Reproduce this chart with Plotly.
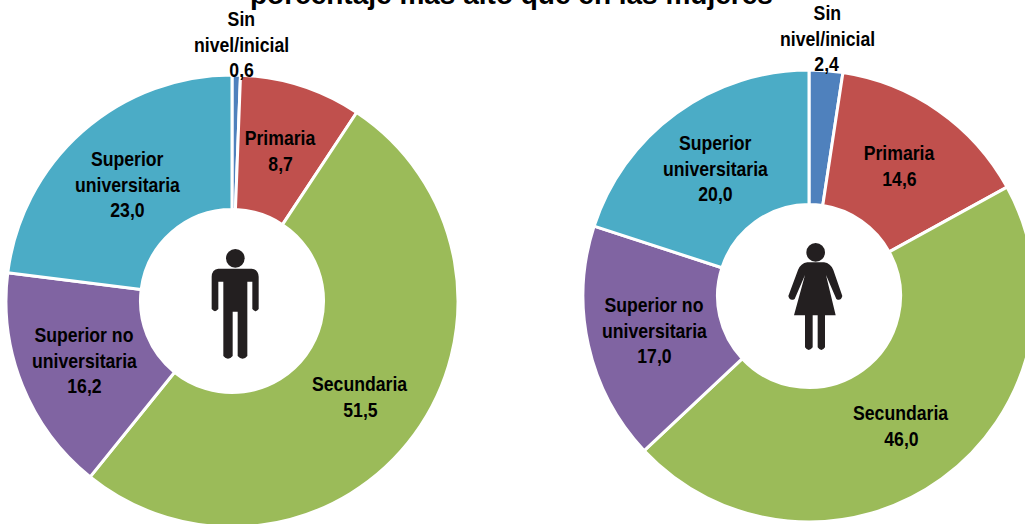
import plotly.graph_objects as go

categories = ["Sin<br>nivel/inicial", "Primaria", "Secundaria", "Superior no<br>universitaria", "Superior<br>universitaria"]
hombres = [0.6, 8.7, 51.5, 16.2, 23.0]
mujeres = [2.4, 14.6, 46.0, 17.0, 20.0]
title_text = "porcentaje más alto que en las mujeres"

colors = ["#4F81BD", "#C0504D", "#9BBB59", "#8064A2", "#4BACC6"]
W, H = 1040, 530
FONT = "Liberation Sans"
FS = 21
LH = 25.6


def px(x):
    return x / W


def py(y):
    return 1 - y / H


def dom(x0, x1, y0, y1):
    return dict(x=[px(x0), px(x1)], y=[py(y1), py(y0)])


def pie(vals, d):
    return go.Pie(values=vals, labels=[c.replace("<br>", " ") for c in categories], sort=False,
                  direction="clockwise", rotation=0, hole=0.405, textinfo="none",
                  marker=dict(colors=colors, line=dict(color="white", width=3)),
                  domain=d, showlegend=False)


fig = go.Figure([pie(hombres, dom(6, 458, 75, 527)), pie(mujeres, dom(583, 1035, 70, 522))])

ann = []
# first-line centre of every label, same order as categories
pos_h = [(241, 18.5), (280, 137.5), (360, 383.5), (84, 334.5), (127, 158.5)]
pos_m = [(827, 12.5), (899, 152.5), (901, 412.5), (654, 304.5), (715, 142.5)]
for vals, pos in ((hombres, pos_h), (mujeres, pos_m)):
    for cat, v, (cx, cy) in zip(categories, vals, pos):
        lines = cat.split("<br>") + [f"{v:.1f}".replace(".", ",")]
        for i, t in enumerate(lines):
            ann.append(dict(text=f"<b>{t}</b>", x=px(cx), y=py(cy + i * LH), xref="paper", yref="paper",
                            xanchor="center", yanchor="middle", showarrow=False,
                            font=dict(family=FONT, size=FS, color="black")))
ann.append(dict(text=f"<b>{title_text}</b>", x=px(511), y=py(-6), xref="paper", yref="paper",
                xanchor="center", yanchor="middle", showarrow=False,
                font=dict(family="Liberation Sans", size=28, color="black")))


def P(seq, ox, oy):
    out = ""
    for item in seq:
        if isinstance(item, str):
            out += item + " "
        else:
            out += f"{px(ox + item[0] / 3):.5f},{py(oy + item[1] / 3):.5f} "
    return out


INK = "#231F20"
shapes = []
# man icon (pictogram)
man = ["M", (85, 116), "L", (185, 116), "Q", (205, 118), (206, 140), "L", (206, 237), "Q", (197, 250), (187, 237),
       "L", (187, 155), "L", (172, 155), "L", (172, 378), "Q", (158, 395), (143, 378), "L", (143, 245), "L", (128, 245),
       "L", (128, 378), "Q", (114, 395), (100, 378), "L", (100, 155), "L", (85, 155), "L", (85, 237),
       "Q", (75, 250), (65, 237), "L", (65, 140), "Q", (66, 118), (85, 116), "Z"]
shapes.append(dict(type="path", xref="paper", yref="paper", path=P(man, 190, 230), fillcolor=INK, line=dict(width=0), layer="above"))
shapes.append(dict(type="circle", xref="paper", yref="paper", x0=px(190 + 108 / 3), x1=px(190 + 164 / 3),
                   y0=py(230 + 113 / 3), y1=py(230 + 57 / 3), fillcolor=INK, line=dict(width=0), layer="above"))
# woman icon (pictogram)
woman = ["M", (112, 97), "L", (162, 97), "Q", (182, 100), (190, 120), "L", (217, 198), "Q", (212, 215), (199, 207),
         "L", (168, 135), "L", (197, 256), "L", (165, 256), "L", (165, 352), "Q", (154, 368), (143, 352), "L", (143, 256),
         "L", (128, 256), "L", (128, 352), "Q", (116, 368), (105, 352), "L", (105, 256), "L", (72, 256), "L", (105, 135),
         "L", (74, 207), "Q", (60, 215), (55, 198), "L", (84, 120), "Q", (92, 100), (112, 97), "Z"]
shapes.append(dict(type="path", xref="paper", yref="paper", path=P(woman, 770, 230), fillcolor=INK, line=dict(width=0), layer="above"))
shapes.append(dict(type="circle", xref="paper", yref="paper", x0=px(770 + 109 / 3), x1=px(770 + 165 / 3),
                   y0=py(230 + 95 / 3), y1=py(230 + 39 / 3), fillcolor=INK, line=dict(width=0), layer="above"))

fig.update_layout(width=W, height=H, margin=dict(l=0, r=0, t=0, b=0), paper_bgcolor="white",
                  annotations=ann, shapes=shapes)
# body reset plus a horizontal squeeze of the labels (the reference font is condensed)
post = """
document.body.style.margin='0';document.documentElement.style.overflow='hidden';document.body.style.overflow='hidden';
document.querySelectorAll('.annotation-text').forEach(function(t){
  var n=t.getComputedTextLength(); var size=parseFloat(t.style.fontSize);
  t.setAttribute('textLength', n*(size>23?1.0:0.84)); t.setAttribute('lengthAdjust','spacingAndGlyphs');
});
"""
fig.write_html("out.html", post_script=post, config=dict(displayModeBar=False))
